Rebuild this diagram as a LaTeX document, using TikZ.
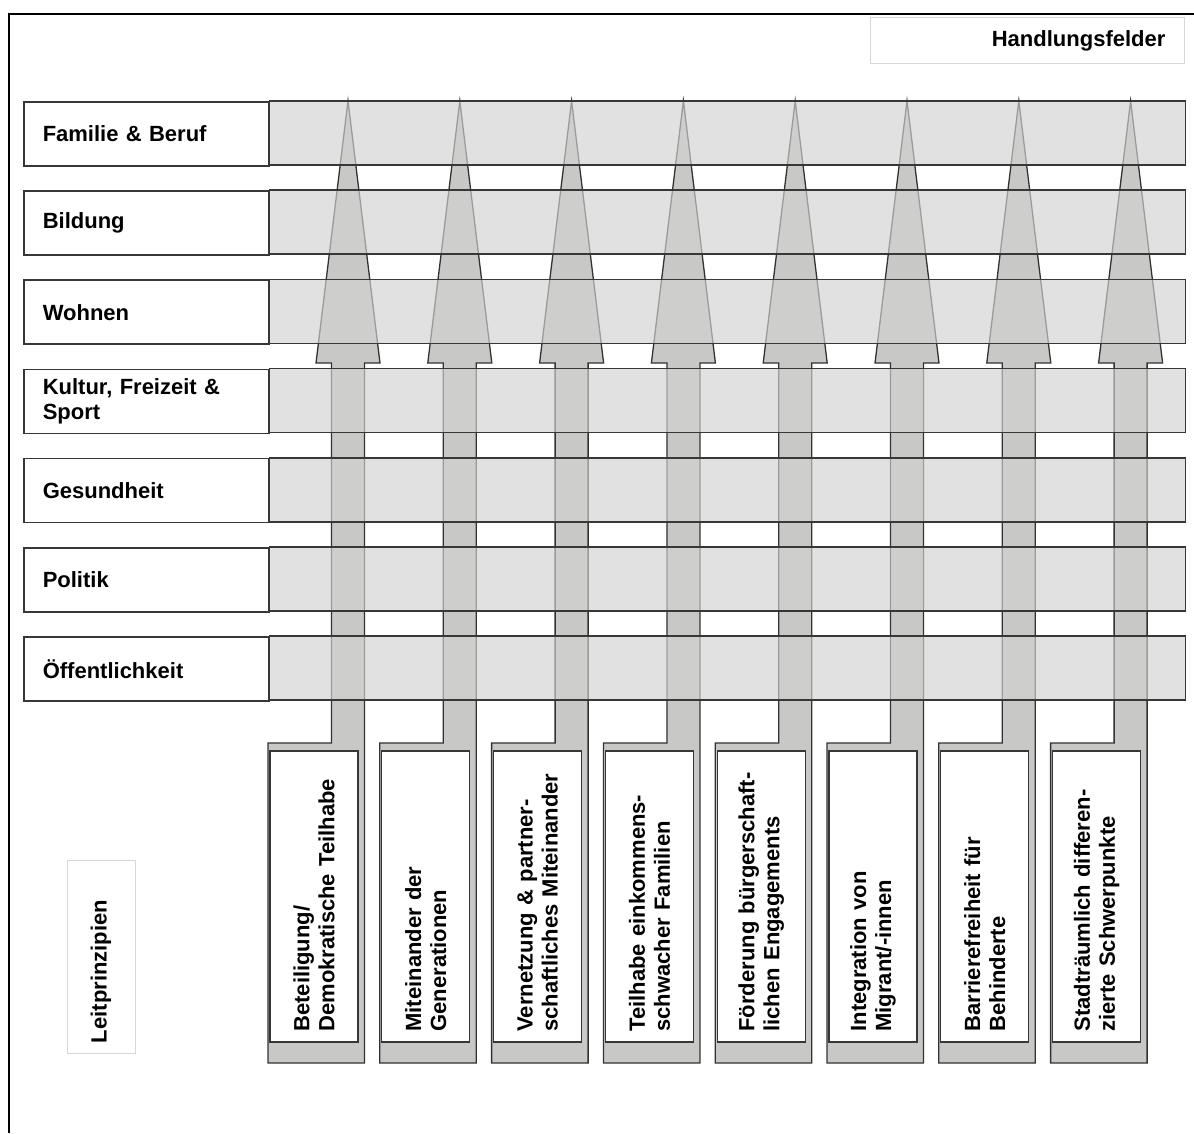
\documentclass[tikz,border=0pt]{standalone}
\usepackage{fontspec}
\setmainfont{Liberation Sans}
\definecolor{rowgray}{RGB}{210,210,210}
\definecolor{arrowgray}{RGB}{200,200,198}
\definecolor{rowline}{RGB}{55,55,55}
\definecolor{arrowline}{RGB}{50,50,50}
\definecolor{headline}{RGB}{215,215,215}
\begin{document}
\begin{tikzpicture}[x=1pt,y=-1pt,font=\fontsize{22}{25}\selectfont\bfseries,line join=miter]
		\tikzset{fieldbox/.style={draw=rowline,line width=1.5pt,fill=white,anchor=north west,minimum width=245pt,minimum height=64pt,inner xsep=19pt,inner ysep=0pt,text width=207pt,align=left},
			fieldband/.style={draw=rowline,line width=1.5pt,fill=rowgray,fill opacity=0.66},
			pfeil/.style={draw=arrowline,line width=1.3pt,fill=arrowgray},
			leitbox/.style={draw=rowline,line width=1.2pt,fill=white,rotate=90,minimum width=291pt,minimum height=88pt,inner xsep=10.5pt,inner ysep=0pt,text width=270pt,align=left},
			headbox/.style={draw=headline,line width=0.8pt,fill=white,inner ysep=0pt}}
		\useasboundingbox (0,0) rectangle (1194,1133);
		\draw[line width=2.6pt] (9,1133) -- (9,14) -- (1194,14);
		\foreach \txt [count=\i from 0] in {{Beteiligung/\\Demokratische Teilhabe},{Miteinander der\\Generationen},{Vernetzung \& partner-\\schaftliches Miteinander},{Teilhabe einkommens-\\schwacher Familien},{Förderung bürgerschaft-\\lichen Engagements},{Integration von\\Migrant/-innen},{Barrierefreiheit für\\Behinderte},{Stadträumlich differen-\\zierte Schwerpunkte}}{
			\pgfmathsetmacro\c{348+111.8*\i}
			\draw[pfeil] (\c,101) -- (\c+32,363) -- (\c+16.5,363) -- (\c+16.5,1063) -- (\c-80,1063) -- (\c-80,743) -- (\c-16.5,743) -- (\c-16.5,363) -- (\c-32,363) -- cycle;
			\node[leitbox] (prinzip\i) at (\c-34,896.5) {\txt};
		}
		\foreach \txt [count=\i from 0] in {{Familie \& Beruf},Bildung,Wohnen,{Kultur, Freizeit \&\\Sport},Gesundheit,Politik,Öffentlichkeit}{
			\pgfmathsetmacro\t{101+89.2*\i}
			\node[fieldbox] (feld\i) at (23,\t) {\txt};
			\draw[fieldband] (feld\i.north east) rectangle ++(916,64);
		}
		\node[headbox,anchor=north west,minimum width=314pt,minimum height=46pt,inner xsep=19pt,text width=276pt,align=right] (handlung) at (870,17) {Handlungsfelder};
		\node[headbox,rotate=90,minimum width=193pt,minimum height=68pt,inner xsep=10pt,text width=173pt,align=left] (leit) at (101,956.5) {Leitprinzipien};
\end{tikzpicture}
\end{document}
